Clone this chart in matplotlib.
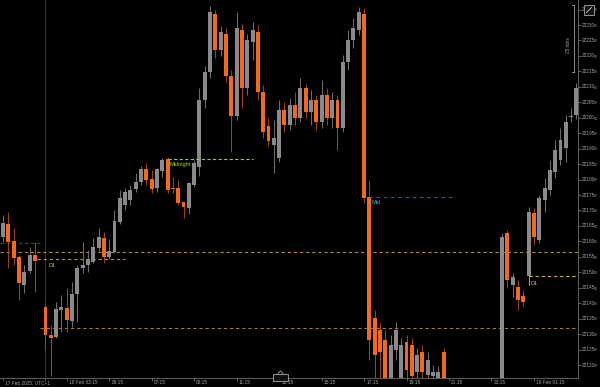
import matplotlib
matplotlib.use("Agg")
import matplotlib.pyplot as plt
import numpy as np
from matplotlib.patches import Rectangle, Polygon
from matplotlib.transforms import blended_transform_factory

nan = np.nan

# 15 minute candles, index 7 has no data
opens = [22161.4, 22165.6, 22160.1, 22154.9, 22145.9, 22150.4, 22155.6, nan, 22138.8, 22129.7,
         22129.1, 22137.8, 22138.4, 22134.2, 22143.0, 22151.4, 22152.4, 22153.3, 22157.9, 22161.1,
         22154.9, 22156.6, 22166.3, 22171.8, 22173.4, 22177.0, 22179.2, 22183.4, 22180.2, 22177.3,
         22182.8, 22186.7, 22177.3, 22177.3, 22172.7, 22170.8, 22178.2, 22184.1, 22205.8, 22214.8,
         22233.6, 22221.9, 22227.1, 22213.5, 22200.6, 22228.4, 22209.6, 22224.5, 22227.8, 22208.3,
         22197.3, 22191.2, 22187.0, 22202.5, 22197.7, 22204.1, 22199.9, 22209.6, 22201.9, 22205.8,
         22198.6, 22207.4, 22199.9, 22205.8, 22196.7, 22218.1, 22225.2, 22228.4, 22233.6, 22174.4,
         22135.2, 22131.3, 22128.1, 22115.1, 22124.9, 22115.1, 22127.4, 22126.5, 22117.7, 22124.2,
         22116.8, 22116.4, 22115.8, 22124.2, 22111.3, 22106.0, 22110.0, 22102.5, 22097.0, 22103.0,
         22107.5, 22101.0, 22105.0, 22099.0, 22104.0, 22162.7, 22145.9, 22145.2, 22142.3, 22148.8,
         22169.2, 22160.5, 22173.4, 22176.6, 22182.5, 22186.3, 22190.2, 22200.3, 22200.9]
highs = [22168.5, 22169.5, 22164.3, 22155.6, 22152.4, 22158.2, 22159.8, nan, 22140.1, 22132.9,
         22140.4, 22142.7, 22144.9, 22146.9, 22152.4, 22159.8, 22157.2, 22161.1, 22164.3, 22163.0,
         22160.8, 22170.2, 22176.6, 22177.3, 22178.2, 22182.1, 22184.4, 22185.4, 22183.1, 22183.7,
         22187.0, 22187.3, 22180.8, 22179.9, 22172.7, 22179.2, 22186.3, 22209.6, 22216.8, 22236.2,
         22234.9, 22229.7, 22229.1, 22215.5, 22234.2, 22230.3, 22227.1, 22231.0, 22230.0, 22210.6,
         22199.9, 22199.3, 22205.8, 22205.1, 22206.4, 22208.3, 22212.9, 22210.9, 22209.0, 22207.4,
         22212.2, 22209.6, 22208.3, 22207.4, 22220.3, 22228.4, 22232.3, 22235.8, 22235.5, 22179.9,
         22137.8, 22133.9, 22131.3, 22129.7, 22133.9, 22128.7, 22129.7, 22128.7, 22125.5, 22126.5,
         22124.2, 22120.0, 22119.7, 22125.5, 22113.0, 22112.0, 22113.5, 22106.0, 22105.0, 22110.0,
         22111.0, 22108.0, 22109.0, 22112.0, 22162.7, 22163.7, 22149.8, 22147.5, 22144.3, 22171.1,
         22170.8, 22175.0, 22180.5, 22186.3, 22192.8, 22196.7, 22200.9, 22203.2, 22211.3]
lows = [22159.8, 22151.4, 22152.4, 22141.0, 22143.3, 22149.8, 22143.6, nan, 22124.9, 22116.4,
        22128.9, 22130.7, 22130.7, 22132.3, 22133.9, 22149.8, 22150.1, 22153.0, 22156.6, 22153.0,
        22154.3, 22156.2, 22165.6, 22170.2, 22171.8, 22176.0, 22178.2, 22178.2, 22175.7, 22176.0,
        22180.8, 22175.7, 22175.7, 22171.8, 22167.6, 22168.9, 22177.6, 22181.2, 22203.2, 22212.9,
        22219.3, 22220.0, 22211.6, 22188.9, 22199.3, 22203.2, 22207.4, 22218.7, 22205.8, 22193.5,
        22190.9, 22182.1, 22185.7, 22195.4, 22196.0, 22197.7, 22198.6, 22199.9, 22197.7, 22196.0,
        22196.7, 22197.7, 22196.7, 22189.6, 22195.4, 22215.5, 22222.6, 22226.8, 22172.4, 22121.6,
        22113.5, 22115.8, 22110.3, 22111.9, 22121.6, 22113.5, 22115.1, 22114.5, 22115.8, 22115.1,
        22115.1, 22115.1, 22113.9, 22109.3, 22104.0, 22103.0, 22101.0, 22095.0, 22094.0, 22100.0,
        22099.0, 22098.0, 22096.0, 22097.0, 22100.0, 22144.9, 22142.0, 22137.8, 22139.1, 22145.9,
        22158.8, 22159.5, 22169.5, 22175.0, 22180.5, 22184.7, 22185.7, 22198.6, 22199.6]
closes = [22166.0, 22159.8, 22154.6, 22146.5, 22150.1, 22155.6, 22153.7, nan, 22129.7, 22128.7,
          22138.1, 22138.8, 22134.6, 22143.0, 22151.4, 22152.4, 22154.3, 22158.2, 22161.4, 22154.9,
          22156.9, 22166.6, 22174.0, 22176.0, 22176.6, 22179.2, 22183.4, 22179.9, 22177.0, 22183.4,
          22186.3, 22176.6, 22177.0, 22172.4, 22171.1, 22178.9, 22185.4, 22205.8, 22214.8, 22234.2,
          22221.9, 22227.8, 22213.5, 22200.6, 22229.1, 22209.6, 22225.2, 22228.4, 22208.3, 22195.4,
          22192.5, 22193.5, 22202.5, 22197.7, 22204.1, 22199.9, 22209.6, 22201.9, 22205.8, 22198.6,
          22207.4, 22199.9, 22205.8, 22196.7, 22218.1, 22225.2, 22229.1, 22234.2, 22174.0, 22128.1,
          22123.2, 22124.2, 22113.5, 22126.5, 22131.3, 22126.5, 22118.4, 22116.4, 22123.2, 22117.7,
          22121.6, 22117.7, 22117.7, 22111.3, 22106.0, 22110.0, 22102.5, 22097.0, 22103.0, 22107.5,
          22101.0, 22105.0, 22099.0, 22108.0, 22161.4, 22147.5, 22148.5, 22141.0, 22140.4, 22169.5,
          22161.4, 22174.0, 22177.3, 22183.1, 22189.6, 22192.8, 22198.6, 22200.6, 22209.6]

# x axis ticks (candle index) and labels
tick_idx = [0, 8, 12, 20, 28, 36, 44, 52, 60, 68, 76, 84, 92, 100]
tick_text = ["17 Feb 2025, UTC+1", "", "18 Feb 03:15", "05:15", "07:15", "09:15", "11:15",
             "13:15", "15:15", "17:15", "19:15", "21:15", "23:15", "19 Feb 01:15"]
price_ticks = list(range(22120, 22240, 5))

# marker levels
d1_left = 22154.3
d1_right = 22148.8
prev_level = 22156.6
low_level = 22132.0
mid_old = 22159.5
midnight = 22186.7
mid_level = 22174.4

up_col, down_col = "#8a8a8a", "#f26a1b"
up_wick, down_wick = "#6c6c6c", "#9a4316"
bg = "#000000"

o = np.array(opens); h = np.array(highs); l = np.array(lows); c = np.array(closes)
x = np.arange(len(o))
ok = ~np.isnan(o)
up = (c >= o) & ok
dn = (c < o) & ok

fig = plt.figure(figsize=(6, 3.87), dpi=100, facecolor=bg)
ax = fig.add_axes([0, 9 / 387, 578 / 600, 378 / 387])
ax.set_facecolor(bg)

xmin, xmax = -0.565, 108.3
ymin, ymax = 22115.8, 22238.1
ax.set_xlim(xmin, xmax)
ax.set_ylim(ymin, ymax)

# day separator
ax.axvline(8, color="#333333", lw=0.8, zorder=1)

# wicks and bodies
ax.vlines(x[up], l[up], h[up], color=up_wick, lw=0.75, zorder=2)
ax.vlines(x[dn], l[dn], h[dn], color=down_wick, lw=0.75, zorder=2)
w = 0.74
body_lo = np.minimum(o, c)
body_h = np.maximum(np.abs(c - o), 0.3)
ax.bar(x[up], body_h[up], bottom=body_lo[up], width=w, color=up_col, lw=0, zorder=3)
ax.bar(x[dn], body_h[dn], bottom=body_lo[dn], width=w, color=down_col, lw=0, zorder=3)

# level lines
dash_o = (0, (3, 2.5))
ax.hlines(mid_old, xmin, 7.0, color="#1d4a5e", lw=0.8, linestyles=dash_o, zorder=1)
ax.hlines(prev_level, xmin, xmax, color="#bd8032", lw=0.8, linestyles=dash_o, zorder=1)
ax.hlines(d1_left, 6.4, 23.0, color="#b8903c", lw=0.8, linestyles=dash_o, zorder=1)
ax.hlines(low_level, 7.0, xmax, color="#a8762e", lw=0.8, linestyles=dash_o, zorder=1)
ax.hlines(midnight, 31, 47, color="#8ccf3c", lw=0.8, linestyles=(0, (3, 2)), zorder=4)
ax.hlines(mid_level, 69, 85.2, color="#1f6a8a", lw=0.8, linestyles=(0, (3, 3.5)), zorder=4)
ax.hlines(d1_right, 99, xmax, color="#d2b04a", lw=0.8, linestyles=dash_o, zorder=4)

lab = dict(family="Liberation Sans", fontsize=4.0, va="center", ha="left", zorder=5)
ax.text(8.5, 22152.3, "D1", color="#e0c04c", **lab)
ax.text(31.3, 22185.0, "Midnight", color="#9ad845", **lab)
ax.text(69.5, 22172.5, "Mid", color="#3eb0e6", **lab)
ax.text(99.4, 22146.5, "D1", color="#e6c44e", **lab)
ax.vlines(99, d1_right - 3, d1_right, color="#d2b04a", lw=0.6, zorder=4)

# axes styling
for s in ["top", "left"]:
    ax.spines[s].set_visible(False)
for s in ["right", "bottom"]:
    ax.spines[s].set_color("#5a5a5a")
    ax.spines[s].set_linewidth(0.8)

ax.set_xticks(tick_idx)
ax.set_xticklabels([])
ax.yaxis.tick_right()
ax.set_yticks(price_ticks)
ax.set_yticklabels([])
ax.tick_params(axis="both", length=2, width=0.6, color="#707070", direction="out")

ax_font = dict(family="Liberation Sans", color="#a6a6a6")
xtr = blended_transform_factory(ax.transData, ax.transAxes)
for t, s in zip(tick_idx, tick_text):
    if s:
        ax.annotate(s, xy=(t, 0), xycoords=xtr, xytext=(1.6, -3.1), textcoords="offset points",
                    fontsize=3.4, va="center", ha="left", annotation_clip=False, **ax_font)

ytr = blended_transform_factory(ax.transAxes, ax.transData)
for p in price_ticks:
    ax.annotate(str(p), xy=(1, p), xycoords=ytr, xytext=(2.6, 0), textcoords="offset points",
                fontsize=3.4, va="center", ha="left", annotation_clip=False, **ax_font)
    ax.annotate("00", xy=(1, p), xycoords=ytr, xytext=(11.6, -0.6), textcoords="offset points",
                fontsize=2.4, va="center", ha="left", annotation_clip=False, **ax_font)

# "25 ticks" measuring bracket at top right
fig.add_artist(plt.Line2D([574 / 600, 574 / 600], [1 - 5 / 387, 1 - 72 / 387], color="#a0a0a0", lw=0.6))
for yy in [5, 72]:
    fig.add_artist(plt.Line2D([571.5 / 600, 574 / 600], [1 - yy / 387] * 2, color="#a0a0a0", lw=0.6))
fig.text(569 / 600, 1 - 45 / 387, "25 ticks", rotation=90, fontsize=3.3, color="#a6a6a6",
         family="Liberation Sans", ha="center", va="center")

# small icons
fig.add_artist(Rectangle((584 / 600, 1 - 15 / 387), 10 / 600, 10 / 387, transform=fig.transFigure,
                         facecolor="#151515", edgecolor="#a8a8a8", lw=0.6))
fig.add_artist(plt.Line2D([586.5 / 600, 591.5 / 600], [1 - 12.5 / 387, 1 - 7.5 / 387], color="#c8c8c8", lw=0.6))
fig.add_artist(Rectangle((273 / 600, 1 - 381 / 387), 15 / 600, 7 / 387, transform=fig.transFigure,
                         facecolor="#101010", edgecolor="#a8a8a8", lw=0.6))
fig.add_artist(Polygon([[277.5 / 600, 1 - 374 / 387], [280.5 / 600, 1 - 371 / 387], [283.5 / 600, 1 - 374 / 387]],
                       closed=False, transform=fig.transFigure, fill=False, edgecolor="#a8a8a8", lw=0.6))

fig.savefig("out.png", dpi=100, facecolor=bg)
